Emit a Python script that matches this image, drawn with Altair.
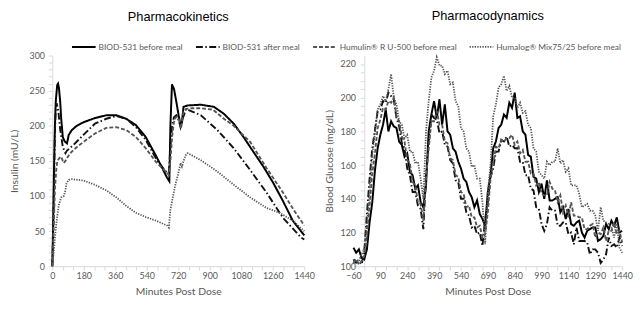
import altair as alt
import pandas as pd

SERIES = ["BIOD-531 before meal", "BIOD-531 after meal",
          "Humulin® R U-500 before meal", "Humalog® Mix75/25 before meal"]

# ---------------- Pharmacokinetics (insulin, mU/L) ----------------
pk_solid_t = [0, 5, 10, 15, 20, 28, 33, 38, 45, 51, 60, 70, 84, 94, 112, 140, 178, 244, 309, 366, 422, 478,
              534, 591, 628, 656, 669, 675, 684, 696, 709, 722, 733, 741, 750, 774, 849, 924, 981, 1037, 1093,
              1149, 1206, 1262, 1318, 1374, 1440]
pk_solid_v = [0, 60, 140, 200, 235, 258, 260, 254, 235, 210, 184, 178, 175, 187, 194, 200, 205, 211, 215, 215,
              210, 201, 184, 158, 140, 126, 121, 200, 259, 252, 234, 215, 201, 205, 227, 229, 230, 227, 217,
              203, 184, 163, 142, 119, 93, 65, 44]

pk_after_t = [0, 5, 10, 15, 20, 25, 35, 45, 60, 75, 85, 100, 122, 178, 244, 309, 366, 422, 478, 534, 591, 647,
              666, 675, 685, 695, 709, 722, 733, 745, 765, 783, 849, 943, 1037, 1131, 1224, 1318, 1421, 1440]
pk_after_v = [0, 50, 120, 190, 225, 232, 220, 195, 170, 161, 165, 168, 173, 187, 203, 210, 214, 210, 198, 180,
              154, 135, 133, 170, 200, 212, 215, 208, 198, 210, 224, 222, 215, 194, 168, 137, 105, 69, 41, 38]

pk_humulin_t = [0, 5, 10, 15, 22, 28, 40, 51, 60, 66, 75, 84, 100, 122, 178, 244, 309, 366, 422, 478, 534, 591,
                647, 666, 675, 685, 695, 705, 715, 725, 735, 742, 750, 765, 800, 849, 918, 981, 1037, 1131,
                1224, 1318, 1380, 1440]
pk_humulin_v = [0, 30, 70, 110, 135, 149, 154, 156, 150, 147, 150, 154, 160, 166, 177, 189, 197, 198, 194, 184,
                168, 149, 135, 130, 150, 185, 205, 212, 213, 208, 196, 205, 220, 224, 225, 225, 223, 210, 200,
                177, 140, 105, 80, 58]

pk_humalog_t = [0, 10, 19, 30, 38, 51, 66, 75, 81, 95, 112, 178, 244, 309, 366, 422, 478, 534, 591, 656, 666,
                675, 690, 705, 718, 733, 741, 750, 765, 774, 849, 943, 1037, 1131, 1224, 1299, 1374, 1440]
pk_humalog_v = [0, 25, 51, 75, 88, 98, 100, 108, 118, 123, 124, 122, 116, 108, 98, 86, 76, 70, 65, 58, 55, 80,
                100, 118, 130, 147, 142, 150, 159, 161, 151, 135, 116, 98, 83, 76, 65, 50]

# ---------------- Pharmacodynamics (blood glucose, mg/dL), every 15 min from -60 ----------------
pd_t = list(range(-60, 1441, 15))
pd_solid = [111, 108, 110, 105, 104, 110, 126, 138, 157, 170, 178, 184, 193, 180, 186, 183, 182, 174, 172, 165,
            167, 156, 154, 146, 148, 138, 135, 148, 180, 190, 198, 188, 199, 184, 196, 180, 178, 170, 168, 162,
            158, 152, 150, 144, 141, 135, 139, 131, 128, 124, 144, 154, 170, 174, 182, 184, 190, 188, 197, 194,
            203, 188, 189, 180, 178, 166, 165, 153, 152, 144, 149, 140, 151, 139, 139, 140, 141, 132, 135, 128,
            134, 125, 124, 126, 127, 120, 117, 121, 122, 123, 123, 115, 116, 118, 125, 122, 127, 124, 129, 120,
            121]
pd_after = [104, 102, 103, 101, 108, 131, 152, 170, 181, 192, 193, 198, 197, 203, 201, 199, 188, 183, 173, 170,
            158, 154, 144, 144, 136, 134, 122, 154, 174, 190, 188, 187, 179, 180, 172, 171, 163, 161, 151, 150,
            140, 140, 132, 130, 123, 124, 119, 120, 112, 128, 138, 153, 158, 168, 168, 175, 174, 177, 171, 172,
            170, 170, 162, 162, 154, 154, 146, 145, 135, 134, 125, 121, 125, 135, 133, 133, 124, 124, 126, 126,
            119, 120, 113, 123, 115, 115, 115, 114, 107, 110, 110, 108, 102, 104, 107, 117, 112, 113, 111, 117,
            112]
pd_humulin = [102, 104, 101, 103, 106, 118, 136, 155, 167, 182, 187, 194, 193, 198, 197, 200, 189, 186, 177,
              174, 163, 161, 150, 148, 138, 137, 127, 152, 170, 186, 186, 192, 184, 184, 174, 173, 164, 163, 154,
              153, 144, 143, 135, 136, 129, 129, 123, 124, 117, 119, 132, 152, 160, 171, 170, 175, 174, 176, 176,
              178, 172, 174, 167, 169, 162, 162, 155, 155, 148, 150, 143, 142, 142, 150, 146, 145, 138, 142, 132,
              136, 129, 138, 130, 130, 129, 129, 122, 122, 124, 125, 117, 120, 119, 123, 115, 121, 121, 126, 119,
              121, 114]
pd_humalog = [102, 104, 103, 107, 110, 125, 145, 166, 179, 193, 196, 201, 198, 205, 214, 200, 196, 186, 184,
              176, 178, 168, 168, 161, 162, 152, 140, 180, 198, 212, 216, 224, 219, 219, 214, 216, 208, 209, 198,
              195, 182, 180, 170, 168, 159, 160, 152, 152, 138, 113, 144, 160, 189, 196, 206, 208, 213, 204, 207,
              200, 200, 194, 197, 191, 192, 184, 182, 170, 168, 156, 154, 152, 162, 160, 162, 162, 170, 161, 163,
              156, 158, 148, 148, 148, 143, 135, 136, 137, 133, 133, 130, 121, 135, 127, 126, 125, 123, 117, 126,
              111, 108]

pk_rows = []
for name, ts, vs in [(SERIES[0], pk_solid_t, pk_solid_v), (SERIES[1], pk_after_t, pk_after_v),
                     (SERIES[2], pk_humulin_t, pk_humulin_v), (SERIES[3], pk_humalog_t, pk_humalog_v)]:
    for t, v in zip(ts, vs):
        pk_rows.append({"series": name, "t": t, "v": v})
pk_df = pd.DataFrame(pk_rows)

pd_rows = []
for name, vs in [(SERIES[0], pd_solid), (SERIES[1], pd_after), (SERIES[2], pd_humulin), (SERIES[3], pd_humalog)]:
    for t, v in zip(pd_t, vs):
        pd_rows.append({"series": name, "t": t, "v": v})
pd_df = pd.DataFrame(pd_rows)

color_scale = alt.Scale(domain=SERIES, range=["#000000", "#111111", "#555555", "#555555"])
dash_scale = alt.Scale(domain=SERIES, range=[[1, 0], [7, 2.5, 1.5, 2.5], [4, 2], [1.3, 1.3]])
width_scale = alt.Scale(domain=SERIES, range=[2.0, 1.8, 1.3, 1.3])

leg = alt.Legend(orient="none", legendX=19, legendY=-22, direction="horizontal", title=None,
                 symbolType="stroke", symbolSize=576, labelFont="Lato", labelFontSize=8.5,
                 labelColor="#595959", columnPadding=9, labelOffset=2, padding=0)

title_font = "Liberation Sans"

left = alt.Chart(pk_df).mark_line().encode(
    x=alt.X("t:Q", scale=alt.Scale(domain=[0, 1440], nice=False),
            axis=alt.Axis(title="Minutes Post Dose", values=list(range(0, 1441, 60)), format="d",
                          labelExpr="datum.value % 180 == 0 ? datum.label : ''", labelOverlap=False,
                          labelFlush=False)),
    y=alt.Y("v:Q", scale=alt.Scale(domain=[0, 300], nice=False),
            axis=alt.Axis(title="Insulin (mU/L)", values=list(range(0, 301, 10)), format="d",
                          labelExpr="datum.value % 50 == 0 ? datum.label : ''", labelOverlap=False,
                          labelPadding=4, titlePadding=10)),
    color=alt.Color("series:N", scale=color_scale, legend=leg),
    strokeDash=alt.StrokeDash("series:N", scale=dash_scale, legend=leg),
    strokeWidth=alt.StrokeWidth("series:N", scale=width_scale, legend=leg),
).properties(width=256, height=214,
             title=alt.TitleParams("Pharmacokinetics", font=title_font, fontSize=13, fontWeight="normal",
                                   color="black", offset=10, anchor="middle"))

right = alt.Chart(pd_df).mark_line().encode(
    x=alt.X("t:Q", scale=alt.Scale(domain=[-60, 1440], nice=False),
            axis=alt.Axis(title="Minutes Post Dose", values=list(range(-60, 1441, 30)), format="d",
                          labelExpr="(datum.value + 60) % 150 == 0 ? datum.label : ''", labelOverlap=False,
                          labelFlush=False,
                          tickOpacity={"condition": {"test": "datum.value % 60 != 0 || datum.value < 0",
                                                     "value": 0}, "value": 1})),
    y=alt.Y("v:Q", scale=alt.Scale(domain=[100, 225], nice=False),
            axis=alt.Axis(title="Blood Glucose (mg/dL)", values=list(range(100, 221, 5)), format="d",
                          labelExpr="datum.value % 20 == 0 ? datum.label : ''", labelOverlap=False,
                          offset=-11, labelPadding=5)),
    color=alt.Color("series:N", scale=color_scale, legend=None),
    strokeDash=alt.StrokeDash("series:N", scale=dash_scale, legend=None),
    strokeWidth=alt.StrokeWidth("series:N", scale=width_scale, legend=None),
).properties(width=273, height=214,
             title=alt.TitleParams("Pharmacodynamics", font=title_font, fontSize=13, fontWeight="normal",
                                   color="black", offset=31, anchor="middle"))

chart = alt.hconcat(left, right, spacing=50, bounds="flush").resolve_legend(
    color="independent", strokeDash="independent", strokeWidth="independent"
).properties(
    padding={"left": 1, "top": 0, "right": 0, "bottom": 0}
).configure_view(stroke=None).configure_axis(
    grid=False, domainColor="#d9d9d9", tickColor="#d9d9d9", tickSize=4,
    labelColor="#595959", titleColor="#595959", labelFont="Lato", titleFont="Lato",
    labelFontSize=9, titleFontSize=10.5, titleFontWeight="normal", titlePadding=6
)

chart.save("out.html", embed_options={"renderer": "svg", "actions": False})
